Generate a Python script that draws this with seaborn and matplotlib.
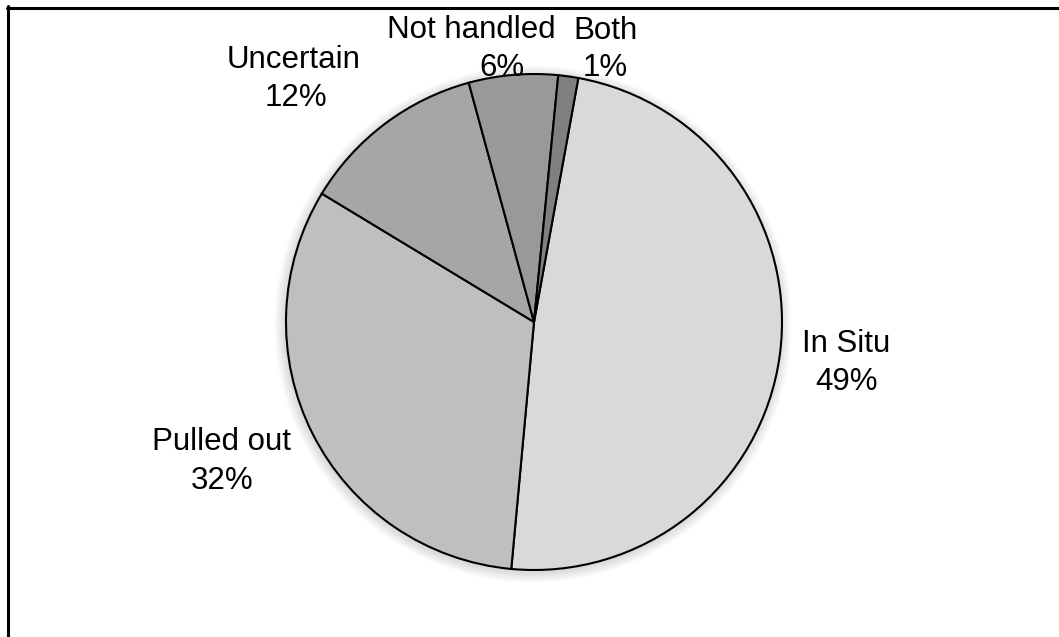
import matplotlib
matplotlib.use("Agg")
import matplotlib.pyplot as plt
from matplotlib.lines import Line2D
from matplotlib.patches import Circle
import seaborn as sns

# ---- data ----
categories = ["In Situ", "Pulled out", "Uncertain", "Not handled", "Both"]
values = [48.6, 32.2, 12.1, 5.8, 1.3]
pct_labels = ["49%", "32%", "12%", "6%", "1%"]
colors = ["#d9d9d9", "#bfbfbf", "#a6a6a6", "#999999", "#808080"]

# label positions in pixel coords (x, y from top): name line and percent line
name_pos = [(846, 344), (222, 442), (294, 60), (471, 30), (606, 31)]
pct_pos = [(846, 382), (222, 481), (296, 98), (502, 68), (605, 68)]

W, H = 1059, 637
sns.set_theme(style="white")
plt.rcParams['font.family'] = ['Liberation Sans', 'DejaVu Sans']

fig = plt.figure(figsize=(W / 100, H / 100), dpi=100)
ax = fig.add_axes([0, 0, 1, 1])

cx, cy, r = 534, H - 322, 248

# soft shadow
for i in range(12, 0, -1):
    ax.add_patch(Circle((cx - 1, cy - 2), r + i * 0.9, facecolor="black",
                        edgecolor="none", alpha=0.012, zorder=0))

wedges, _ = ax.pie(values, colors=colors, startangle=90 - 10.3, counterclock=False,
                   center=(cx, cy), radius=r, frame=True,
                   wedgeprops=dict(edgecolor="black", linewidth=1.5))

for (nx, ny), (px, py), name, pct in zip(name_pos, pct_pos, categories, pct_labels):
    ax.text(nx, H - ny, name, ha="center", va="center", fontsize=22.5, color="black")
    ax.text(px, H - py, pct, ha="center", va="center", fontsize=22.5, color="black")

ax.set_xlim(0, W)
ax.set_ylim(0, H)
ax.set_aspect("equal")
ax.axis("off")

# outer frame (top and left lines)
fig.add_artist(Line2D([7 / W, 1], [1 - 7.5 / H, 1 - 7.5 / H], transform=fig.transFigure,
                      color="black", linewidth=2.2))
fig.add_artist(Line2D([7.5 / W, 7.5 / W], [0, 1 - 6 / H], transform=fig.transFigure,
                      color="black", linewidth=2.2))

fig.savefig("out.png", dpi=100, facecolor="white")
